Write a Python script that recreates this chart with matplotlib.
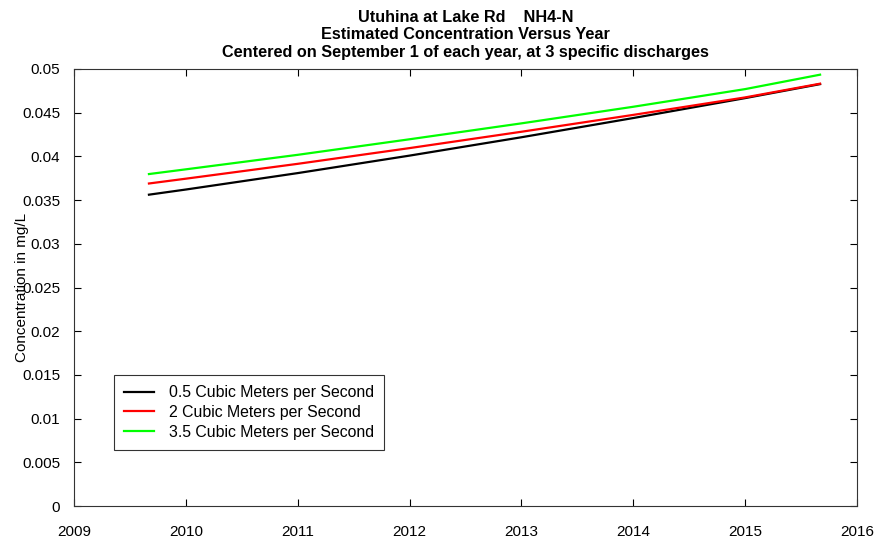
import matplotlib
matplotlib.use("Agg")
import matplotlib.pyplot as plt

years = [2009.67, 2010.0, 2011.0, 2012.0, 2013.0, 2014.0, 2015.0, 2015.67]
q_low = [0.03562, 0.03621, 0.03809, 0.04009, 0.04219, 0.04439, 0.04667, 0.04827]
q_mid = [0.03690, 0.03745, 0.03915, 0.04095, 0.04282, 0.04475, 0.04675, 0.04832]
q_high = [0.03798, 0.03852, 0.04018, 0.04196, 0.04378, 0.04568, 0.04770, 0.04935]
labels = ["0.5 Cubic Meters per Second", "2 Cubic Meters per Second", "3.5 Cubic Meters per Second"]
colors = ["black", "#ff0000", "#00ff00"]
xticks = [2009, 2010, 2011, 2012, 2013, 2014, 2015, 2016]
yticks = [0, 0.005, 0.01, 0.015, 0.02, 0.025, 0.03, 0.035, 0.04, 0.045, 0.05]
ytick_labels = ["0", "0.005", "0.01", "0.015", "0.02", "0.025", "0.03", "0.035", "0.04", "0.045", "0.05"]

plt.rcParams['font.family'] = ['Liberation Sans', 'DejaVu Sans']

fig = plt.figure(figsize=(8.8, 5.42), dpi=100)
ax = fig.add_axes([74/880, 36/542, 783/880, 437/542])

for vals, lab, c in zip([q_low, q_mid, q_high], labels, colors):
    ax.plot(years, vals, color=c, lw=1.6, label=lab)

ax.set_xlim(2009, 2016)
ax.set_ylim(0, 0.05)
ax.set_xticks(xticks)
ax.set_xticklabels([str(x) for x in xticks])
ax.set_yticks(yticks)
ax.set_yticklabels(ytick_labels)
ax.tick_params(axis='both', direction='in', length=5, width=0.8, top=True, right=True,
               labelsize=11, colors='black')
ax.tick_params(axis='x', pad=14)
ax.tick_params(axis='y', pad=10)
for s in ax.spines.values():
    s.set_linewidth(0.8)
    s.set_color('#333333')

ax.set_ylabel("Concentration in mg/L", fontsize=11)
ax.yaxis.set_label_coords(-0.058, 0.5)

ax.set_title("Utuhina at Lake Rd    NH4-N\nEstimated Concentration Versus Year\nCentered on September 1 of each year, at 3 specific discharges",
             fontsize=11.7, fontweight='bold', linespacing=1.2, pad=9)

leg = ax.legend(loc='lower left', bbox_to_anchor=(0.051, 0.128), fontsize=11.4,
                frameon=True, fancybox=False, handlelength=1.9, handletextpad=0.9,
                borderpad=0.65, labelspacing=0.3, borderaxespad=0)
leg.get_frame().set_edgecolor('black')
leg.get_frame().set_linewidth(0.8)

fig.savefig("out.png", dpi=100)
